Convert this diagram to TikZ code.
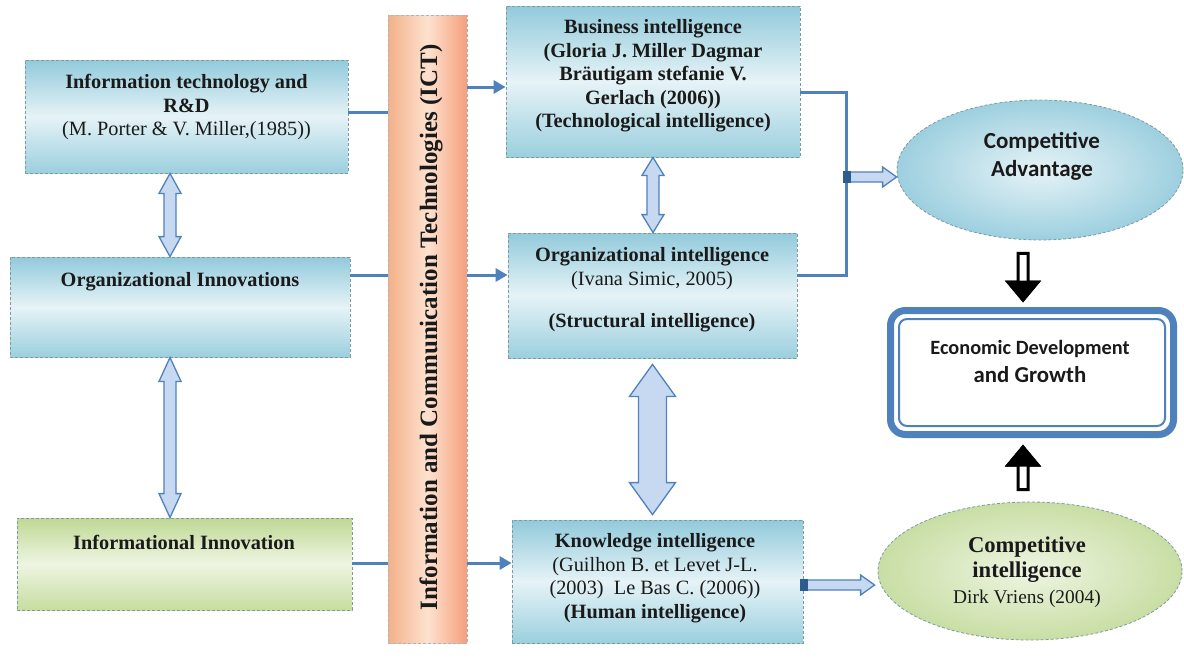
\documentclass[tikz,border=0pt]{standalone}
\usepackage{fontspec}
\setmainfont{Liberation Serif}
\newfontfamily\calfont{Carlito}
\usetikzlibrary{calc,shapes.geometric,arrows.meta}

\definecolor{lineblue}{HTML}{4F81BD}
\definecolor{arrowfill}{HTML}{C6D9F1}
\definecolor{stubblue}{HTML}{2E5C8F}
\definecolor{boxtop}{HTML}{92CADB}
\definecolor{boxmid}{HTML}{E6F3F7}
\definecolor{boxbot}{HTML}{9BCFDE}
\definecolor{boxedge}{HTML}{7E9AA3}
\definecolor{greentop}{HTML}{BFD894}
\definecolor{greenmid}{HTML}{EEF5E2}
\definecolor{greenbot}{HTML}{C6DDA0}
\definecolor{ictside}{HTML}{F4B089}
\definecolor{ictmid}{HTML}{FDE2CF}
\definecolor{textdark}{HTML}{1A1A1A}

% block arrow with two heads, from top anchor #1 to bottom anchor #2
\newcommand\dblblockarrow[5]{%
  \filldraw[blockarrow] let \p1=(#1), \p2=(#2) in
    (\x1,\y1) -- ({\x1+#4},{\y1-#5}) -- ({\x1+#3},{\y1-#5}) --
    ({\x1+#3},{\y2+#5}) -- ({\x1+#4},{\y2+#5}) -- (\x1,\y2) --
    ({\x1-#4},{\y2+#5}) -- ({\x1-#3},{\y2+#5}) -- ({\x1-#3},{\y1-#5}) --
    ({\x1-#4},{\y1-#5}) -- cycle;}

% hollow horizontal arrow with a dark stub at its tail
\newcommand\hollowarrow[2]{%
  \filldraw[blockarrow] let \p1=(#1), \p2=(#2) in
    (\x1,{\y1+5pt}) -- ({\x2-14pt},{\y1+5pt}) -- ({\x2-14pt},{\y1+10pt}) --
    (\x2,\y1) -- ({\x2-14pt},{\y1-10pt}) -- ({\x2-14pt},{\y1-5pt}) --
    (\x1,{\y1-5pt}) -- cycle;
  \fill[stubblue] let \p1=(#1) in ({\x1-3pt},{\y1-6pt}) rectangle ({\x1+5pt},{\y1+6pt});}

% black single arrow: outlined shaft, solid head, tip at #2
\newcommand\blackblockarrow[2]{%
  \filldraw[blackarrow] let \p1=(#1), \p2=(#2), \n1={ifthenelse(\y2>\y1,-1,1)} in
    ({\x1-5pt},\y1) -- ({\x1-5pt},{\y2+(\n1)*18pt}) -- ({\x1-15pt},{\y2+(\n1)*18pt}) --
    (\x1,\y2) -- ({\x1+15pt},{\y2+(\n1)*18pt}) -- ({\x1+5pt},{\y2+(\n1)*18pt}) --
    ({\x1+5pt},\y1) -- cycle;
  \filldraw[black, line width=3pt, line join=miter] let \p1=(#1), \p2=(#2), \n1={ifthenelse(\y2>\y1,-1,1)} in
    ({\x1-15pt},{\y2+(\n1)*18pt}) -- (\x1,\y2) -- ({\x1+15pt},{\y2+(\n1)*18pt}) -- cycle;}

\tikzset{
  bluebox/.style={rectangle, inner sep=0pt, draw=boxedge, densely dashed, line width=0.8pt,
    top color=boxtop, bottom color=boxbot, middle color=boxmid},
  greenbox/.style={rectangle, inner sep=0pt, draw=boxedge, densely dashed, line width=0.8pt,
    top color=greentop, bottom color=greenbot, middle color=greenmid},
  ictbar/.style={rectangle, inner sep=0pt, draw=boxedge!70, densely dashed, line width=0.8pt,
    left color=ictside, right color=ictside!90!red, middle color=ictmid},
  caell/.style={ellipse, inner sep=0pt, draw=boxedge, densely dashed, line width=0.8pt,
    inner color=boxmid, outer color=boxtop!90!white},
  ciell/.style={ellipse, inner sep=0pt, draw=boxedge, densely dashed, line width=0.8pt,
    inner color=greenmid, outer color=greentop!85!white},
  econbox/.style={rectangle, rounded corners=15pt, inner sep=0pt, draw=lineblue,
    line width=7pt, fill=white},
  txt/.style={align=center, inner sep=0pt, text=textdark, font=\fontsize{20.3}{23.5}\selectfont},
  link/.style={draw=lineblue, line width=3pt, line join=miter},
  linkarrow/.style={link, -{Triangle[length=12pt,width=13pt]}},
  blockarrow/.style={fill=arrowfill, draw=lineblue, line width=1.3pt, line join=miter},
  blackarrow/.style={fill=white, draw=black, line width=3pt, line join=miter},
}

\begin{document}
\begin{tikzpicture}[x=1pt,y=-1pt]
\useasboundingbox (0,0) rectangle (1184,659);
\fill[white] (0,0) rectangle (1184,659);

% helper rows and columns
\coordinate (r1) at (0,112);
\coordinate (r1b) at (0,87);
\coordinate (r2) at (0,275);
\coordinate (r3) at (0,563);
\coordinate (bk) at (0,92);
\coordinate (bx) at (846,0);
\coordinate (caY) at (0,177);
\coordinate (kY) at (0,585);
\coordinate (colL) at (170,0);
\coordinate (colR) at (1023,0);

% left column
\node[bluebox, minimum width=323pt, minimum height=113pt] (itr) at (186.5,116.5) {};
\node[bluebox, minimum width=340pt, minimum height=100pt] (oinn) at (180,307) {};
\node[greenbox, minimum width=335pt, minimum height=92pt] (iinn) at (184.5,564) {};

% ICT bar
\node[ictbar, minimum width=79pt, minimum height=628pt] (ict) at (427.5,329) {};

% middle column
\node[bluebox, minimum width=294pt, minimum height=151pt] (bi) at (653,81.5) {};
\node[bluebox, minimum width=289pt, minimum height=125pt] (oint) at (652.5,295.5) {};
\node[bluebox, minimum width=291pt, minimum height=123pt] (ki) at (657.5,581.5) {};

% right column
\node[caell, minimum width=286pt, minimum height=140pt] (ca) at (1040,170) {};
\node[econbox, minimum width=283pt, minimum height=124pt] (econ) at (1032,372.5) {};
\draw[lineblue, line width=2pt, rounded corners=8pt]
  ([shift={(12,-12)}]econ.south west) rectangle ([shift={(-12,12)}]econ.north east);
\node[ciell, minimum width=304pt, minimum height=138pt] (ci) at (1030,571) {};

% texts
\node[txt] (itr-t) at (186.5,107.5) {\textbf{Information technology and}\\\textbf{R\&D}\\(M. Porter \& V. Miller,(1985))};
\node[txt] (oinn-t) at (180,282) {\textbf{Organizational Innovations}};
\node[txt] (iinn-t) at (184,542) {\textbf{Informational Innovation}};
\node[rotate=90, inner sep=0pt, text=textdark, font=\bfseries\fontsize{25}{30}\selectfont] (ict-t) at (431,327.5)
  {Information and Communication Technologies (ICT)};
\node[txt] (bi-t) at (653,76) {\textbf{Business intelligence}\\\textbf{(Gloria J. Miller Dagmar}\\\textbf{Bräutigam stefanie V.}\\\textbf{Gerlach (2006))}\\\textbf{(Technological intelligence)}};
\node[txt] (oint-t) at (652,290) {\textbf{Organizational intelligence}\\(Ivana Simic, 2005)\\[19pt]\textbf{(Structural intelligence)}};
\node[txt] (ki-t) at (655,578) {\textbf{Knowledge intelligence}\\(Guilhon B. et Levet J-L.\\(2003)~~Le Bas C. (2006))\\\textbf{(Human intelligence)}};
\node[align=center, inner sep=0pt, text=textdark, font=\calfont\bfseries\fontsize{23}{28}\selectfont] (ca-t) at (1042,156) {Competitive\\Advantage};
\node[align=center, inner sep=0pt, text=textdark, font=\calfont\bfseries\fontsize{22.8}{28}\selectfont] (econ-t) at (1030,361)
  {{\fontsize{20.3}{28}\selectfont Economic Development}\\and Growth};
\node[align=center, inner sep=0pt, text=textdark, font=\fontsize{19.4}{25.5}\selectfont] (ci-t) at (1027,572)
  {{\bfseries\fontsize{22.6}{25.5}\selectfont Competitive}\\{\bfseries\fontsize{22.6}{25.5}\selectfont intelligence}\\Dirk Vriens (2004)};

% links into and out of the ICT bar
\draw[link] (itr.east |- r1) -- (ict.west |- r1);
\draw[link] (oinn.east |- r2) -- (ict.west |- r2);
\draw[link] (iinn.east |- r3) -- (ict.west |- r3);
\draw[linkarrow] (ict.east |- r1b) -- (bi.west |- r1b);
\draw[linkarrow] (ict.east |- r2) -- (oint.west |- r2);
\draw[linkarrow] (ict.east |- r3) -- (ki.west |- r3);

% bracket joining business and organizational intelligence
\draw[link] (bi.east |- bk) -- (bx |- bk) -- (bx |- r2) -- (oint.east |- r2);

% two-way block arrows
\dblblockarrow{colL |- itr.south}{colL |- oinn.north}{6pt}{11pt}{20pt}
\dblblockarrow{colL |- oinn.south}{colL |- iinn.north}{6pt}{11pt}{24pt}
\dblblockarrow{bi.south}{bi.south |- oint.north}{6pt}{11pt}{18pt}
\dblblockarrow{[yshift=-6pt]oint.south}{[yshift=5pt]oint.south |- ki.north}{14pt}{23pt}{32pt}

% hollow arrows to the ellipses
\hollowarrow{bx |- caY}{ca.west |- caY}
\hollowarrow{ki.east |- kY}{[xshift=-3pt]ci.west |- kY}

% black arrows into the economic development box
\blackblockarrow{[yshift=-13pt]colR |- ca.south}{[yshift=7pt]colR |- econ.north}
\blackblockarrow{[yshift=12pt]colR |- ci.north}{[yshift=-9pt]colR |- econ.south}
\end{tikzpicture}
\end{document}
